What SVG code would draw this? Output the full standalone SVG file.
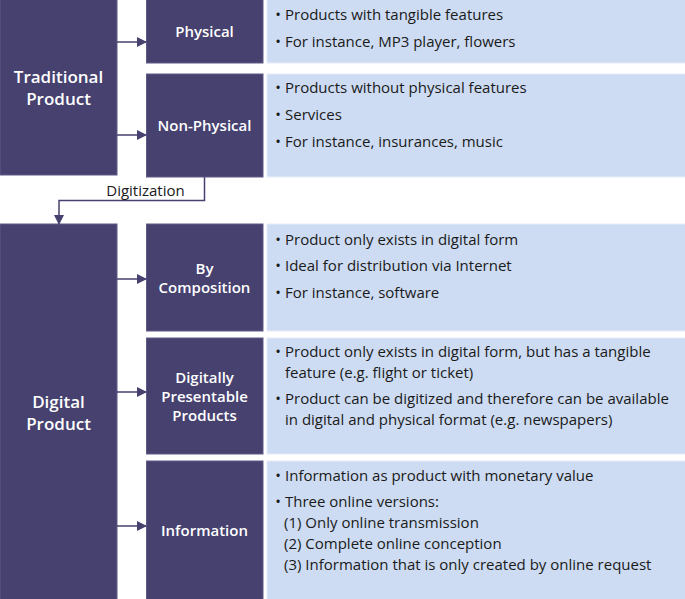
<svg xmlns="http://www.w3.org/2000/svg" width="685" height="599" viewBox="0 0 685 599">
<defs>
<style>
.dark{fill:#46416f;stroke:#5e5a86;stroke-width:1}
.light{fill:#cddcf2;stroke:#e6eefa;stroke-width:1}
.lbl{font-family:"Open Sans","Noto Sans",sans-serif;fill:#ffffff;font-weight:600;text-anchor:middle}
.big{font-size:17px}
.mid{font-size:15px}
.txt{font-family:"Open Sans","Noto Sans",sans-serif;font-size:15px;fill:#1a1a1a}
.bul{font-family:"Open Sans","Noto Sans",sans-serif;font-size:15px;fill:#1a1a1a;text-anchor:middle}
.conn{stroke:#46416f;stroke-width:1.5;fill:none}
</style>
<marker id="ah" markerWidth="10" markerHeight="10" refX="9" refY="5" orient="auto" markerUnits="userSpaceOnUse">
<path d="M0,0 L10,5 L0,10 Z" fill="#46416f"/>
</marker>
</defs>
<rect width="685" height="599" fill="#ffffff"/>

<g id="traditional">
<rect class="dark" x="0" y="-1" width="117" height="176"/>
<text class="lbl big" x="58.5" y="83">Traditional</text>
<text class="lbl big" x="58.5" y="105">Product</text>
</g>
<g id="physical">
<rect class="dark" x="146.5" y="-1" width="116.5" height="64"/>
<text class="lbl mid" x="204.5" y="37">Physical</text>
</g>
<g id="physical-desc">
<rect class="light" x="267" y="-1" width="419" height="64"/>
<text class="bul" x="278" y="20">•</text><text class="txt" x="285" y="20">Products with tangible features</text>
<text class="bul" x="278" y="47">•</text><text class="txt" x="285" y="47">For instance, MP3 player, flowers</text>
</g>
<g id="nonphysical">
<rect class="dark" x="146.5" y="74" width="116.5" height="103"/>
<text class="lbl mid" x="204.5" y="131">Non-Physical</text>
</g>
<g id="nonphysical-desc">
<rect class="light" x="267" y="74" width="419" height="103"/>
<text class="bul" x="278" y="93">•</text><text class="txt" x="285" y="93">Products without physical features</text>
<text class="bul" x="278" y="120">•</text><text class="txt" x="285" y="120">Services</text>
<text class="bul" x="278" y="147">•</text><text class="txt" x="285" y="147">For instance, insurances, music</text>
</g>

<g id="digital">
<rect class="dark" x="0" y="224" width="117" height="376"/>
<text class="lbl big" x="58.5" y="408">Digital</text>
<text class="lbl big" x="58.5" y="430">Product</text>
</g>
<g id="composition">
<rect class="dark" x="146.5" y="224" width="116.5" height="107"/>
<text class="lbl mid" x="204.5" y="274">By</text>
<text class="lbl mid" x="204.5" y="293">Composition</text>
</g>
<g id="composition-desc">
<rect class="light" x="267" y="224" width="419" height="107"/>
<text class="bul" x="278" y="245">•</text><text class="txt" x="285" y="245">Product only exists in digital form</text>
<text class="bul" x="278" y="271">•</text><text class="txt" x="285" y="271">Ideal for distribution via Internet</text>
<text class="bul" x="278" y="298">•</text><text class="txt" x="285" y="298">For instance, software</text>
</g>
<g id="presentable">
<rect class="dark" x="146.5" y="338" width="116.5" height="116"/>
<text class="lbl mid" x="204.5" y="383">Digitally</text>
<text class="lbl mid" x="204.5" y="402">Presentable</text>
<text class="lbl mid" x="204.5" y="421">Products</text>
</g>
<g id="presentable-desc">
<rect class="light" x="267" y="338" width="419" height="116"/>
<text class="bul" x="278" y="357">•</text><text class="txt" x="285" y="357">Product only exists in digital form, but has a tangible</text>
<text class="txt" x="285" y="378">feature (e.g. flight or ticket)</text>
<text class="bul" x="278" y="404">•</text><text class="txt" x="285" y="404">Product can be digitized and therefore can be available</text>
<text class="txt" x="285" y="425">in digital and physical format (e.g. newspapers)</text>
</g>
<g id="information">
<rect class="dark" x="146.5" y="461" width="116.5" height="139"/>
<text class="lbl mid" x="204.5" y="536">Information</text>
</g>
<g id="information-desc">
<rect class="light" x="267" y="461" width="419" height="139"/>
<text class="bul" x="278" y="481">•</text><text class="txt" x="285" y="481">Information as product with monetary value</text>
<text class="bul" x="278" y="507">•</text><text class="txt" x="285" y="507">Three online versions:</text>
<text class="txt" x="284" y="528">(1) Only online transmission</text>
<text class="txt" x="284" y="549">(2) Complete online conception</text>
<text class="txt" x="284" y="570">(3) Information that is only created by online request</text>
</g>

<g id="connectors">
<line class="conn" x1="117" y1="42" x2="146" y2="42" marker-end="url(#ah)"/>
<line class="conn" x1="117" y1="135" x2="146" y2="135" marker-end="url(#ah)"/>
<line class="conn" x1="117" y1="279" x2="146" y2="279" marker-end="url(#ah)"/>
<line class="conn" x1="117" y1="392" x2="146" y2="392" marker-end="url(#ah)"/>
<line class="conn" x1="117" y1="526" x2="146" y2="526" marker-end="url(#ah)"/>
<polyline class="conn" points="204.5,177 204.5,200.5 59,200.5 59,224" marker-end="url(#ah)"/>
<text class="txt" x="145.5" y="196" text-anchor="middle">Digitization</text>
</g>
</svg>
